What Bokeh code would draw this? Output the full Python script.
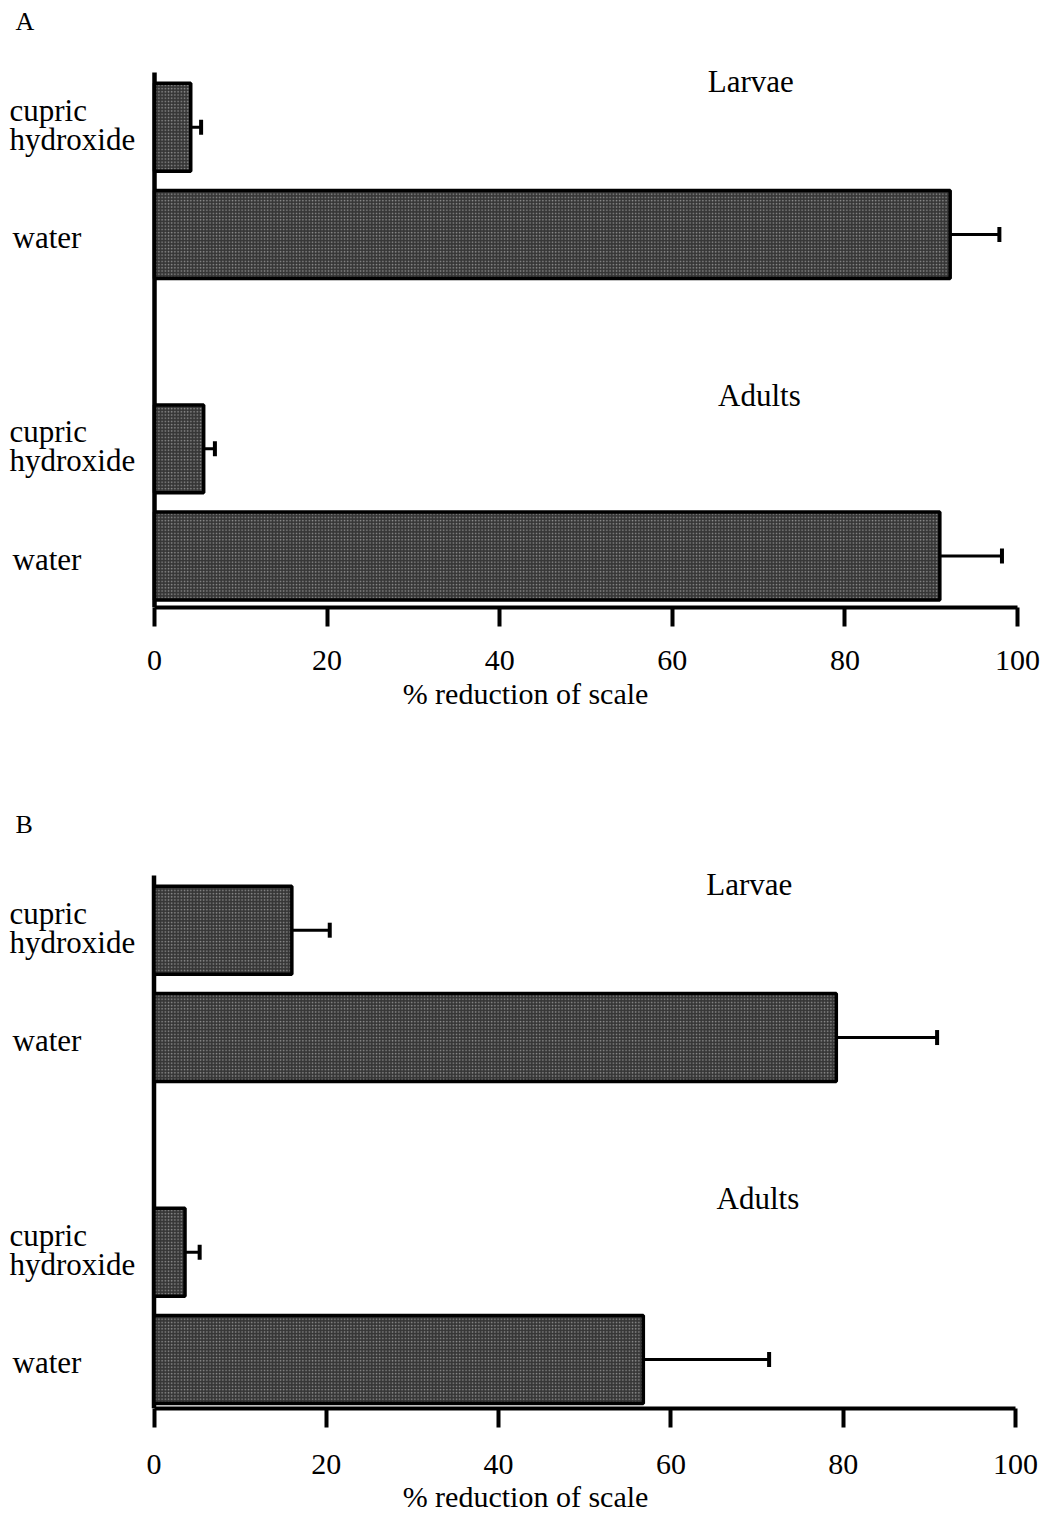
from bokeh.plotting import figure
from bokeh.layouts import column
from bokeh.models import ColumnDataSource, Range1d, FixedTicker, Whisker, TeeHead
from bokeh.core.properties import value
from bokeh.embed import file_html
from bokeh.resources import INLINE

# ---- data -------------------------------------------------------------
stages = ["Larvae", "Adults"]
treatments = ["cupric hydroxide", "water"]
tick_values = [0, 20, 40, 60, 80, 100]
x_title = "% reduction of scale"

# order: larvae/cupric, larvae/water, adults/cupric, adults/water
a_mean = [4.2, 92.2, 5.7, 91.0]
a_se = [1.2, 5.7, 1.3, 7.2]

b_mean = [16.0, 79.2, 3.6, 56.8]
b_se = [4.4, 11.7, 1.7, 14.6]

# ---- styling / layout -------------------------------------------------
FONT = "Liberation Serif"
ROWS = [0, 1, 3, 4]          # bar rows (gap row between the two stages)
BAR_H = 0.82
BAR_FILL = "#363636"
W = 1050


def panel(letter, means, ses, fig_h, border_bottom, x_start, x_end,
          y_bottom, y_top, label_standoff, title_standoff, line_h):
    p = figure(width=W, height=fig_h, output_backend="svg", toolbar_location=None,
               x_range=Range1d(x_start, x_end), y_range=Range1d(y_bottom, y_top),
               y_axis_location=None, min_border_left=0, min_border_right=0,
               min_border_top=0, min_border_bottom=border_bottom)
    p.outline_line_color = None
    p.xgrid.grid_line_color = None
    p.ygrid.grid_line_color = None
    p.background_fill_color = "white"
    p.border_fill_color = "white"

    rows_stage = [stages[i // 2] for i in range(4)]
    rows_treat = [treatments[i % 2] for i in range(4)]
    upper = [m + s for m, s in zip(means, ses)]
    src = ColumnDataSource(dict(y=ROWS, mean=means, upper=upper,
                                stage=rows_stage, treat=rows_treat))

    # vertical axis line
    p.segment(x0=[0], y0=[-0.51], x1=[0], y1=[y_bottom],
              line_color="black", line_width=4.5)

    # bars
    p.hbar(y="y", left=0, right="mean", height=BAR_H, source=src,
           fill_color=BAR_FILL, line_color="black", line_width=3.5,
           hatch_pattern="dot", hatch_color="white", hatch_alpha=0.45,
           hatch_scale=3.2, hatch_weight=1.0)

    # error bars (+1 SE)
    p.add_layout(Whisker(base="y", lower="mean", upper="upper", dimension="width",
                         source=src, line_color="black", line_width=3,
                         lower_head=None,
                         upper_head=TeeHead(size=15, line_width=4, line_color="black"),
                         level="overlay"))

    # treatment labels on the left
    label_rows, label_txt, label_dy, label_dx = [], [], [], []
    for r, t in zip(ROWS, rows_treat):
        if " " in t:
            first, second = t.split(" ", 1)
            label_rows += [r, r]
            label_txt += [first, second]
            label_dy += [-17, 12]
            label_dx += [9, 9]
        else:
            label_rows.append(r)
            label_txt.append(t)
            label_dy.append(3)
            label_dx.append(12)
    p.text(x=[x_start] * len(label_rows), y=label_rows, text=label_txt,
           x_offset=label_dx, y_offset=label_dy,
           text_font=value(FONT), text_font_size="31px", text_color="black",
           text_align="left", text_baseline="alphabetic")

    # stage headings
    p.text(x=[69.1, 70.1], y=[-0.31, 2.61], text=stages, y_offset=-12,
           text_font=value(FONT), text_font_size="31px", text_color="black",
           text_align="center", text_baseline="alphabetic")

    # panel letter
    p.text(x=[x_start], y=[-0.902], text=[letter], x_offset=15, y_offset=-9,
           text_font=value(FONT), text_font_size="26px", text_color="black",
           text_align="left", text_baseline="alphabetic")

    ax = p.xaxis[0]
    ax.bounds = (0, 100)
    ax.ticker = FixedTicker(ticks=tick_values)
    ax.minor_tick_line_color = None
    ax.axis_line_width = 4
    ax.axis_line_color = "black"
    ax.major_tick_line_width = 4
    ax.major_tick_line_color = "black"
    ax.major_tick_in = 0
    ax.major_tick_out = 19
    ax.major_label_standoff = label_standoff
    ax.major_label_text_font = FONT
    ax.major_label_text_font_size = "30px"
    ax.major_label_text_color = "black"
    ax.major_label_text_line_height = line_h
    ax.axis_label = x_title
    ax.axis_label_standoff = title_standoff
    ax.axis_label_text_font = FONT
    ax.axis_label_text_font_size = "30px"
    ax.axis_label_text_font_style = "normal"
    ax.axis_label_text_color = "black"
    ax.axis_label_text_line_height = line_h
    return p


pa = panel("A", a_mean, a_se, 757, 150,
           -154 / 8.63, (W - 154) / 8.63, 4.48, -1.182, 24, 4, 1.2)
pb = panel("B", b_mean, b_se, 758, 106,
           -153.5 / 8.615, (W - 153.5) / 8.615, 4.456, -1.609, 27, 3, 0.7)

layout = column(pa, pb, spacing=0)
open("out.html", "w").write(file_html(layout, INLINE))
